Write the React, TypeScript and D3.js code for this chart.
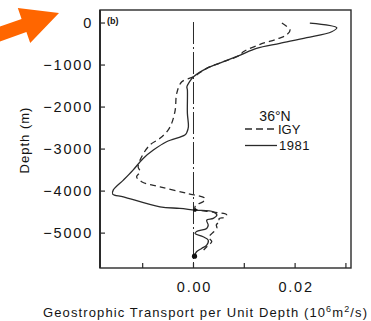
import React from "react";
import * as d3 from "d3";

// Depth profiles of geostrophic transport per unit depth at 36°N
const depth1981 = [0, -112, -207, -350, -483, -602, -762, -921, -1079, -1279, -1400, -1517, -1595, -2150, -2469, -2600, -2667, -2826, -3024, -3222, -3500, -3738, -3976, -4070, -4135, -4374, -4412, -4452, -4493, -4571, -4650, -4690, -4810, -4888, -4960, -5007, -5087, -5167, -5286, -5365, -5444, -5548];
const transport1981 = [0.0229, 0.0282, 0.0272, 0.0223, 0.017, 0.0124, 0.0092, 0.0059, 0.0026, 0.0, -0.0008, -0.0013, -0.0012, -0.0012, -0.001, -0.0013, -0.0017, -0.0053, -0.0079, -0.0099, -0.0119, -0.0138, -0.0158, -0.0159, -0.0138, -0.0066, -0.0027, 0.0003, 0.0039, 0.0046, 0.0039, 0.0026, 0.0029, 0.0026, 0.0006, 0.0003, 0.0019, 0.0029, 0.0026, 0.0016, 0.0006, 0.0002];

const depthIGY = [0, -167, -286, -381, -508, -683, -762, -921, -1079, -1279, -1398, -1674, -2071, -2388, -2548, -2745, -2905, -3183, -3421, -3540, -3659, -3778, -3897, -4055, -4175, -4254, -4330, -4420, -4500, -4560, -4620, -4660, -4720, -4800, -4880, -5000, -5100, -5200, -5300, -5400];
const transportIGY = [0.0174, 0.019, 0.0183, 0.0164, 0.0131, 0.0098, 0.0092, 0.0059, 0.0026, 0.0, -0.0023, -0.0033, -0.0036, -0.0043, -0.005, -0.0066, -0.0086, -0.0102, -0.0109, -0.0105, -0.0112, -0.0102, -0.0066, -0.0013, 0.0023, 0.0019, 0.0005, 0.0003, 0.004, 0.0065, 0.0062, 0.005, 0.0052, 0.0045, 0.0046, 0.0037, 0.003, 0.0036, 0.0028, 0.002];

// Marked points on the 1981 profile
const dotDepths = [-4452, -5548];
const dotValues = [0.0003, 0.0002];

const xTickValues = [-0.01, 0, 0.01, 0.02, 0.03];
const xTickLabels = ["", "0.00", "", "0.02", ""];
const yTickValues = [0, -1000, -2000, -3000, -4000, -5000];
const yTickLabels = ["0", "\u22121000", "\u22122000", "\u22123000", "\u22124000", "\u22125000"];

const W = 371;
const H = 321;
const frame = { left: 100, right: 351, top: 10, bottom: 268 };
const ink = "#2a2a2a";
const textInk = "#141414";
const font = "'Liberation Sans', Arial, sans-serif";

export default function App() {
  const x = d3.scaleLinear().domain([-0.0184, 0.031]).range([frame.left, frame.right]);
  const y = d3.scaleLinear().domain([310, -5830]).range([frame.top, frame.bottom]);

  const line = d3
    .line<[number, number]>()
    .x((d) => x(d[1]))
    .y((d) => y(d[0]))
    .curve(d3.curveCatmullRom.alpha(0.5));

  const solidPath = line(depth1981.map((d, i) => [d, transport1981[i]]));
  const dashedPath = line(depthIGY.map((d, i) => [d, transportIGY[i]]));

  return (
    <svg
      width={W}
      height={H}
      style={{ position: "absolute", left: 0, top: 0, background: "#fff" }}
    >
      {/* pointer arrow */}
      <polygon
        points="-12.4,31 21.6,18.9 17.8,8.1 59,13 30.2,42.9 26.4,32.1 -7.6,44.2"
        fill="#ff6600"
      />

      {/* frame */}
      <rect
        x={frame.left}
        y={frame.top}
        width={frame.right - frame.left}
        height={frame.bottom - frame.top}
        fill="none"
        stroke={ink}
        strokeWidth={1.4}
      />
      <line x1={frame.left} x2={frame.left} y1={frame.top} y2={frame.bottom} stroke={ink} strokeWidth={2} />

      {/* zero line */}
      <line
        x1={x(0)}
        x2={x(0)}
        y1={y(0) - 1}
        y2={frame.bottom - 2}
        stroke={ink}
        strokeWidth={1}
        strokeDasharray="22,3,2,3"
      />

      {/* y ticks */}
      {yTickValues.map((v, i) => (
        <g key={"y" + v}>
          <line x1={frame.left} x2={frame.left + 5} y1={y(v)} y2={y(v)} stroke={ink} strokeWidth={1.2} />
          <text
            x={93}
            y={y(v)}
            dy="0.36em"
            textAnchor="end"
            fontFamily={font}
            fontSize={14.5}
            letterSpacing={1.8}
            fill={textInk}
          >
            {yTickLabels[i]}
          </text>
        </g>
      ))}

      {/* x ticks */}
      {xTickValues.map((v, i) => (
        <g key={"x" + v}>
          <line x1={x(v)} x2={x(v)} y1={frame.bottom} y2={frame.bottom - 5} stroke={ink} strokeWidth={1.2} />
          {xTickLabels[i] && (
            <text
              x={x(v) + 1}
              y={292}
              textAnchor="middle"
              fontFamily={font}
              fontSize={14.5}
              letterSpacing={1.8}
              fill={textInk}
            >
              {xTickLabels[i]}
            </text>
          )}
        </g>
      ))}

      {/* panel label */}
      <text x={107} y={24} fontFamily={font} fontSize={9} fontWeight="bold" fill={textInk}>
        (b)
      </text>

      {/* profiles */}
      <path d={dashedPath ?? ""} fill="none" stroke={ink} strokeWidth={1.3} strokeDasharray="6,4" />
      <path d={solidPath ?? ""} fill="none" stroke={ink} strokeWidth={1.3} />
      {dotDepths.map((d, i) => (
        <circle key={"dot" + i} cx={x(dotValues[i])} cy={y(d)} r={i === 0 ? 1.8 : 2.6} fill="#111" />
      ))}

      {/* legend */}
      <text x={275} y={121} textAnchor="middle" fontFamily={font} fontSize={14} fill={textInk}>
        36°N
      </text>
      <line x1={245} x2={275} y1={129} y2={129} stroke={ink} strokeWidth={1.3} strokeDasharray="7,4" />
      <text x={278} y={134} fontFamily={font} fontSize={13} fill={textInk}>
        IGY
      </text>
      <line x1={245} x2={277} y1={145.5} y2={145.5} stroke={ink} strokeWidth={1.3} />
      <text x={279} y={150} fontFamily={font} fontSize={13} letterSpacing={0.5} fill={textInk}>
        1981
      </text>

      {/* axis titles */}
      <text
        transform="translate(29,140) rotate(-90)"
        textAnchor="middle"
        fontFamily={font}
        fontSize={13}
        letterSpacing={1}
        fill={textInk}
      >
        Depth (m)
      </text>
      <text
        x={43}
        y={317}
        fontFamily={font}
        fontSize={13}
        fill={textInk}
        textLength={324}
        lengthAdjust="spacing"
      >
        Geostrophic Transport per Unit Depth (10
        <tspan fontSize={9} dy={-5}>6</tspan>
        <tspan dy={5}>m</tspan>
        <tspan fontSize={9} dy={-5}>2</tspan>
        <tspan dy={5}>/s)</tspan>
      </text>
    </svg>
  );
}
